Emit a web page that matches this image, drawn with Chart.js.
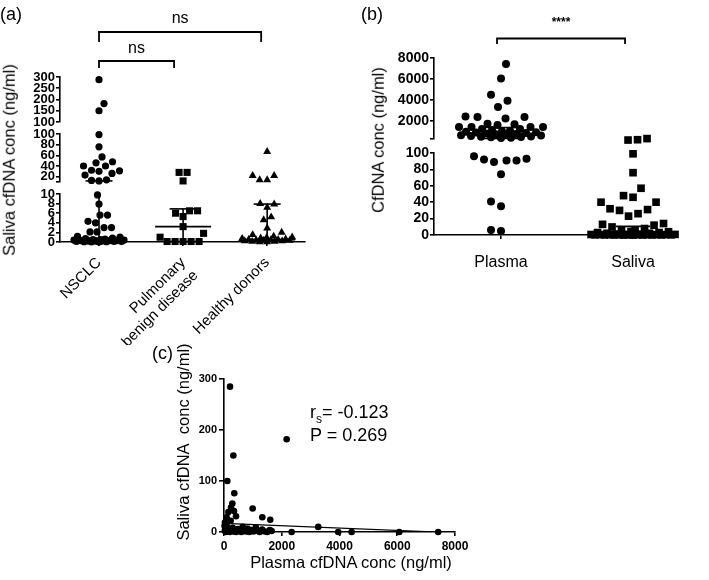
<!DOCTYPE html>
<html>
<head>
<meta charset="utf-8">
<script src="https://cdn.jsdelivr.net/npm/chart.js@4.4.0/dist/chart.umd.min.js"></script>
<style>
  body { margin: 0; background: #fff; font-family: "Liberation Sans", Arial, sans-serif; }
  #fig { position: relative; width: 709px; height: 580px; overflow: hidden; }
  canvas, .lbl { position: absolute; }
  .lbl { color: #000; white-space: nowrap; line-height: 1; }
  .mid { transform: translate(-50%, -50%); }
  .vert { transform: translate(-50%, -50%) rotate(-90deg); }
</style>
</head>
<body>
<div id="fig">
  <canvas id="chartA" width="320" height="345" style="left:0;top:0"></canvas>
  <canvas id="chartB" width="369" height="290" style="left:340px;top:0"></canvas>
  <canvas id="chartC" width="340" height="240" style="left:140px;top:340px"></canvas>

  <div class="lbl" style="left:0;top:5px;font-size:18px">(a)</div>
  <div class="lbl" style="left:361px;top:5px;font-size:18px">(b)</div>
  <div class="lbl" style="left:152px;top:344px;font-size:18px">(c)</div>

  <div class="lbl vert" style="left:9px;top:160px;font-size:16.5px">Saliva cfDNA conc (ng/ml)</div>
  <div class="lbl vert" style="left:378px;top:140px;font-size:16.5px">CfDNA conc (ng/ml)</div>
  <div class="lbl vert" style="left:183px;top:442px;font-size:16.5px">Saliva cfDNA&nbsp; conc (ng/ml)</div>
  <div class="lbl mid" style="left:351px;top:562px;font-size:16.5px">Plasma cfDNA conc (ng/ml)</div>

  <div class="lbl" style="left:310px;top:403px;font-size:18px">r<span style="font-size:12px;position:relative;top:5px">s</span>= -0.123</div>
  <div class="lbl" style="left:310px;top:426px;font-size:18px">P = 0.269</div>
</div>

<script>
// ---- panel (a): saliva cfDNA by group ----
const groupsA = ['NSCLC', ['Pulmonary', 'benign disease'], 'Healthy donors'];
const salivaNsclc = [288, 182, 150,
  99, 76, 57, 48, 46, 40, 40, 32, 31, 30, 26, 23, 14, 13, 12,
  9.8, 7.9, 5.6, 5.6, 4.3, 4.0, 3.0, 3.0, 2.1, 2.1,
  1.2, 1.0, 0.8, 0.7, 0.6, 0.5, 0.5, 0.4, 0.4, 0.3, 0.3, 0.3, 0.2, 0.2, 0.2, 0.1, 0.1, 0.1, 0.05, 0.05, 0, 0];
const salivaBenign = [28, 28, 12, 6.5, 6.5, 6.0, 5.3, 3.2, 1.8, 1.0, 0.1, 0.1, 0.1, 0.1, 0.1];
const salivaHealthy = [67, 22, 22, 14, 14, 8.0, 7.9, 7.2, 5.2, 4.6, 2.9, 2.0, 1.5,
  1.2, 1.0, 0.9, 0.8, 0.7, 0.6, 0.5, 0.5, 0.4, 0.4, 0.3, 0.3, 0.2, 0.2, 0.1, 0.1, 0, 0];
const medianA = [0.8, 3.2, 0.5];
const q1A = [0.2, 0.1, 0.2];
const q3A = [12, 6.9, 7.9];
const ticksATop = [100, 150, 200, 250, 300];
const ticksAMid = [20, 40, 60, 80, 100];
const ticksABot = [0, 2, 4, 6, 8, 10];

// ---- panel (b): plasma vs saliva ----
const groupsB = ['Plasma', 'Saliva'];
const plasmaNsclc = [7430, 6030, 4480, 3900, 3300, 2400, 2350, 2350, 2220, 1700, 1650, 1580, 1400, 1400, 1400, 1400, 1200, 1200,
  1100, 1050, 1000, 950, 900, 860, 820, 780, 740, 700, 660, 620, 580, 540, 500, 470, 440, 410, 380, 350,
  96, 93, 92, 91, 91, 89, 74, 41, 35, 6, 5];
const medianB = [700, 1.5];
const q1B = [300, 0.3];
const q3B = [1350, 10.5];
const ticksBTop = [2000, 4000, 6000, 8000];
const ticksBBot = [0, 20, 40, 60, 80, 100];

// ---- panel (c): correlation ----
const plasmaC = [208, 2170, 323, 115, 357, 288, 242, 992, 150, 346, 415, 1326, 1602, 92, 35, 3264, 2342, 3955, 4420, 6070, 7416, 1590,
  20, 30, 45, 60, 80, 100, 120, 140, 170, 200, 230, 260, 300, 330, 370, 420, 480, 540, 600, 650,
  700, 760, 820, 880, 950, 1020, 1100, 1160, 1240, 1320, 1420, 1500, 1580, 1650];
const salivaC = [285, 182, 150, 100, 76, 56, 48, 46, 39, 41, 31, 29, 24, 29, 19, 10, 0, 0, 0, 0, 0, 4,
  12, 3, 7, 0, 15, 2, 9, 1, 5, 0, 22, 3, 8, 1, 4, 0, 6, 2, 0, 10,
  3, 1, 7, 0, 4, 1, 9, 2, 0, 5, 1, 0, 3, 2];
const fitIntercept = 17;
const fitSlope = -0.0023;

Chart.defaults.font.family = '"Liberation Sans", Arial, sans-serif';
Chart.defaults.color = '#000';

const LW = 1.6;

// stacked y scales with gaps between them, top segment first
function brokenY(segs, font, width) {
  const scales = {};
  segs.forEach((s, i) => {
    const on = !!s.ticks;
    scales[s.id] = {
      type: 'linear', position: 'left', stack: 'left', stackWeight: s.h, weight: segs.length - i,
      min: on ? s.min : 0, max: on ? s.max : 1,
      border: {display: on, color: '#000', width: LW},
      grid: {display: on, drawOnChartArea: false, tickLength: 4, color: '#000', lineWidth: LW},
      ticks: {display: on, autoSkip: false, padding: 1, font,
        callback: v => (on && s.ticks.includes(v) ? v : '')},
      afterBuildTicks: sc => {
        if (on) sc.ticks = [...new Set([s.min, ...s.ticks])].map(v => ({value: v}));
      },
      afterFit: sc => { sc.width = width; }
    };
  });
  return scales;
}

function groupSets(values, group, segs, style) {
  const on = segs.filter(s => s.ticks);
  const segOf = v => on.find(s => v > s.from);
  return on.map(s => ({
    group, yAxisID: s.id, clip: false,
    data: values.filter(v => segOf(v) === s).map(v => ({x: group + 1, y: v})),
    backgroundColor: '#000', pointBackgroundColor: '#000', pointBorderWidth: 0,
    ...style
  })).filter(ds => ds.data.length);
}

// column scatter: push points sideways so they do not sit on each other.
// vertical gaps count for less, so near-equal values spread into a row
function spread(chart, halfWidth, minDist, yWeight) {
  const xs = chart.scales.x;
  const groups = {};
  chart.data.datasets.forEach(ds => {
    if (ds.group === undefined) return;
    const ys = chart.scales[ds.yAxisID];
    (groups[ds.group] = groups[ds.group] || []);
    ds.data.forEach(p => groups[ds.group].push({p, py: ys.getPixelForValue(p.y)}));
  });
  Object.keys(groups).forEach(g => {
    const pts = groups[g];
    const cx = xs.getPixelForValue(+g + 1);
    pts.sort((a, b) => b.py - a.py);
    const placed = [];
    pts.forEach((pt, n) => {
      const sign = n % 2 ? -1 : 1;
      let best = 0, bestD = -1;
      search:
      for (let k = 0; k <= halfWidth; k += 0.5) {
        for (const off of (k ? [sign * k, -sign * k] : [0])) {
          let d = Infinity;
          for (const q of placed) d = Math.min(d, Math.hypot(q.off - off, (q.py - pt.py) * yWeight));
          if (d >= minDist[g]) { best = off; break search; }
          if (d > bestD + 0.01) { bestD = d; best = off; }
        }
      }
      pt.off = best;
      placed.push(pt);
      pt.p.x = xs.getValueForPixel(cx + best);
    });
  });
  chart.data.datasets.forEach(ds => { ds.data = ds.data.slice(); });
  chart.update('none');
}

function summaryPlugin(segs, med, q1, q3, capHalf, medHalf) {
  return {
    id: 'summary',
    afterDatasetsDraw(chart) {
      const ctx = chart.ctx, xs = chart.scales.x;
      const on = segs.filter(s => s.ticks);
      const py = v => chart.scales[[...on].reverse().find(s => v >= s.min && v <= s.max).id].getPixelForValue(v);
      const hline = (cx, half, v) => {
        const y = py(v);
        ctx.beginPath(); ctx.moveTo(cx - half, y); ctx.lineTo(cx + half, y); ctx.stroke();
      };
      ctx.save();
      ctx.strokeStyle = '#000';
      ctx.lineWidth = LW;
      med.forEach((m, g) => {
        const cx = xs.getPixelForValue(g + 1);
        on.forEach(s => {
          const lo = Math.max(q1[g], s.min), hi = Math.min(q3[g], s.max);
          if (lo >= hi) return;
          const sc = chart.scales[s.id];
          ctx.beginPath(); ctx.moveTo(cx, sc.getPixelForValue(lo)); ctx.lineTo(cx, sc.getPixelForValue(hi)); ctx.stroke();
        });
        hline(cx, capHalf, q1[g]);
        hline(cx, capHalf, q3[g]);
        hline(cx, medHalf, m);
      });
      ctx.restore();
    }
  };
}

function bracketPlugin(list) {
  return {
    id: 'brackets',
    afterDraw(chart) {
      const ctx = chart.ctx, xs = chart.scales.x, top = chart.chartArea.top;
      ctx.save();
      ctx.strokeStyle = '#000';
      ctx.fillStyle = '#000';
      ctx.lineWidth = 1.8;
      list.forEach(b => {
        const x0 = xs.getPixelForValue(b.from) + b.inset[0];
        const x1 = xs.getPixelForValue(b.to) + b.inset[1];
        const y = top - b.rise;
        ctx.beginPath();
        ctx.moveTo(x0, y + b.leg); ctx.lineTo(x0, y); ctx.lineTo(x1, y); ctx.lineTo(x1, y + b.leg);
        ctx.stroke();
        ctx.font = b.font;
        ctx.textAlign = 'center';
        ctx.textBaseline = 'alphabetic';
        ctx.fillText(b.text, (x0 + x1) / 2, y - b.gap);
      });
      ctx.restore();
    }
  };
}

function xCategory(labels, min, max, height, font, rotation, padding) {
  return {
    type: 'linear', min, max,
    border: {color: '#000', width: LW},
    grid: {drawOnChartArea: false, tickLength: 4, color: '#000', lineWidth: LW},
    afterBuildTicks: sc => { sc.ticks = labels.map((_, i) => ({value: i + 1})); },
    ticks: {autoSkip: false, minRotation: rotation, maxRotation: rotation, padding, font,
      callback: v => labels[v - 1]},
    afterFit: sc => { sc.height = height; }
  };
}

const common = {
  responsive: false,
  devicePixelRatio: 1,
  animation: false,
  events: [],
  plugins: {legend: {display: false}, tooltip: {enabled: false}}
};

// ---------- (a) ----------
const segsA = [
  {id: 'yTop', min: 100, max: 300, from: 100, h: 45, ticks: ticksATop},
  {id: 'gapA1', h: 12},
  {id: 'yMid', min: 10, max: 100, from: 10, h: 48, ticks: ticksAMid},
  {id: 'gapA2', h: 12},
  {id: 'yBot', min: 0, max: 10, from: -Infinity, h: 48, ticks: ticksABot}
];
const chartA = new Chart(document.getElementById('chartA'), {
  type: 'scatter',
  data: {datasets: [
    ...groupSets(salivaNsclc, 0, segsA, {pointStyle: 'circle', pointRadius: 3.6}),
    ...groupSets(salivaBenign, 1, segsA, {pointStyle: 'rect', pointRadius: 5}),
    ...groupSets(salivaHealthy, 2, segsA, {pointStyle: 'triangle', pointRadius: 4.6})
  ]},
  options: {
    ...common,
    layout: {padding: {left: 20, right: 15, top: 77, bottom: 0}},
    scales: {
      x: xCategory(groupsA, 0.536, 3.45, 103, {size: 15}, 45, 8),
      ...brokenY(segsA, {size: 13, weight: 'bold'}, 40)
    }
  },
  plugins: [
    summaryPlugin(segsA, medianA, q1A, q3A, 13.5, 28),
    bracketPlugin([
      {from: 1, to: 3, inset: [0, -6], rise: 45, leg: 10, gap: 9, text: 'ns', font: '16px "Liberation Sans", Arial'},
      {from: 1, to: 2, inset: [0, -9], rise: 16, leg: 7, gap: 8, text: 'ns', font: '16px "Liberation Sans", Arial'}
    ])
  ]
});
spread(chartA, 25, [7.4, 7.8, 7.4], 0.8);

// ---------- (b) ----------
const segsB = [
  {id: 'yTop', min: 250, max: 8000, from: 100, h: 81, ticks: ticksBTop},
  {id: 'gapB', h: 14},
  {id: 'yBot', min: 0, max: 100, from: -Infinity, h: 82, ticks: ticksBBot}
];
const chartB = new Chart(document.getElementById('chartB'), {
  type: 'scatter',
  data: {datasets: [
    ...groupSets(plasmaNsclc, 0, segsB, {pointStyle: 'circle', pointRadius: 4}),
    ...groupSets(salivaNsclc, 1, segsB, {pointStyle: 'rect', pointRadius: 5.4})
  ]},
  options: {
    ...common,
    layout: {padding: {left: 54, right: 32, top: 58, bottom: 0}},
    scales: {
      x: xCategory(groupsB, 0.4924, 2.333, 55, {size: 16}, 0, 14),
      ...brokenY(segsB, {size: 14, weight: 'bold'}, 40)
    }
  },
  plugins: [
    summaryPlugin(segsB, medianB, q1B, q3B, 17, 32),
    bracketPlugin([
      {from: 1, to: 2, inset: [-4, -8], rise: 19.5, leg: 5.5, gap: 12.5, text: '****', font: 'bold 12px "Liberation Sans", Arial'}
    ])
  ]
});
spread(chartB, 42, [10, 9.5], 0.6);

// ---------- (c) ----------
const fitEnd = Math.max(...plasmaC);
new Chart(document.getElementById('chartC'), {
  type: 'scatter',
  data: {datasets: [
    {data: plasmaC.map((x, i) => ({x, y: salivaC[i]})), clip: false,
      pointRadius: 3.3, backgroundColor: '#000', pointBorderWidth: 0},
    {data: [{x: 0, y: fitIntercept}, {x: fitEnd, y: fitIntercept + fitSlope * fitEnd}],
      showLine: true, pointRadius: 0, borderColor: '#000', borderWidth: 1.3}
  ]},
  options: {
    ...common,
    layout: {padding: {left: 30, right: 25, top: 39, bottom: 0}},
    scales: {
      x: {
        type: 'linear', min: 0, max: 8000,
        border: {color: '#000', width: LW},
        grid: {drawOnChartArea: false, tickLength: 4, color: '#000', lineWidth: LW},
        ticks: {stepSize: 2000, padding: 3, font: {size: 12, weight: 'bold'}, callback: v => v},
        afterFit: sc => { sc.height = 48; }
      },
      y: {
        type: 'linear', min: 0, max: 300,
        border: {color: '#000', width: LW},
        grid: {drawOnChartArea: false, tickLength: 5, color: '#000', lineWidth: LW},
        ticks: {stepSize: 100, padding: 2, font: {size: 11, weight: 'bold'}},
        afterFit: sc => { sc.width = 54; }
      }
    }
  }
});
</script>
</body>
</html>
